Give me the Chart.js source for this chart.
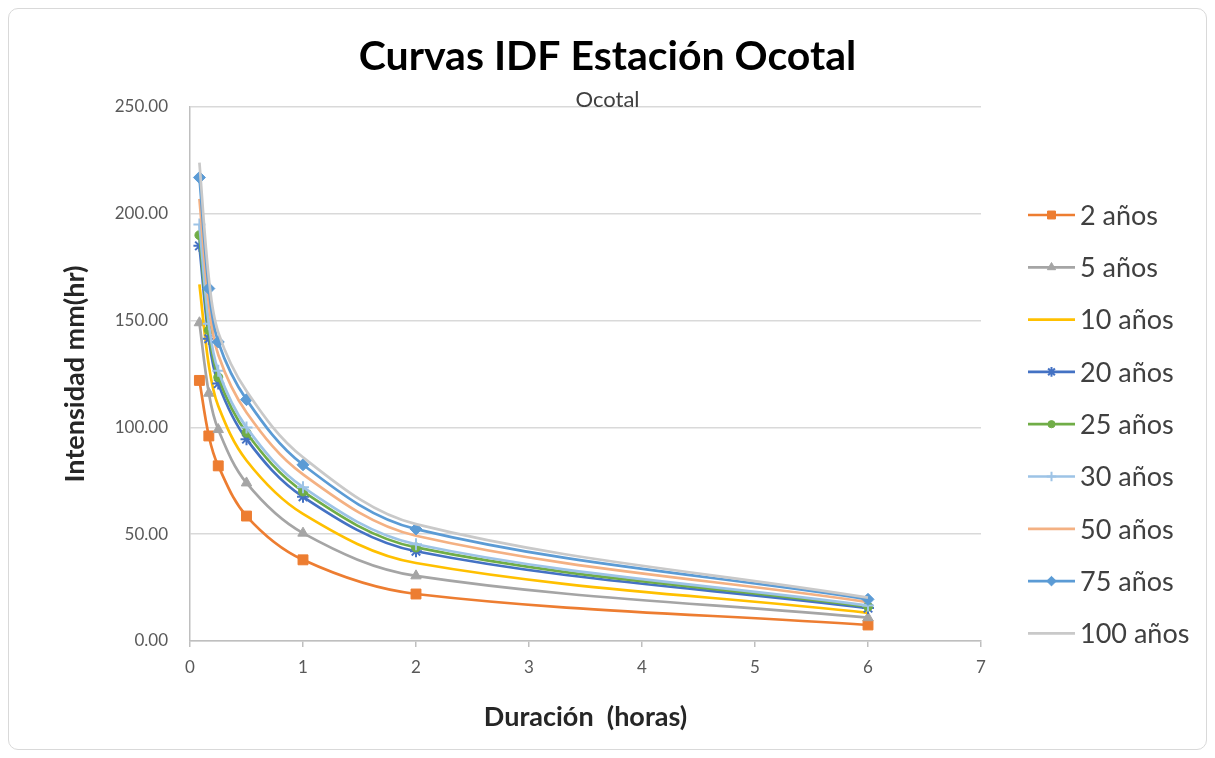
<!DOCTYPE html>
<html>
<head>
<meta charset="utf-8">
<title>Curvas IDF Estación Ocotal</title>
<script src="https://cdn.jsdelivr.net/npm/chart.js@4/dist/chart.umd.min.js"></script>
<style>
  html, body { margin: 0; background: #fff; }
  #box {
    position: absolute; left: 8px; top: 8px;
    width: 1197px; height: 740px;
    border: 1px solid #d9d9d9; border-radius: 10px; overflow: hidden;
  }
  canvas { display: block; }
</style>
</head>
<body>
<div id="box"><canvas id="idf" width="1197" height="740"></canvas></div>
<script>
// --- Data ---
// durations in hours: 5, 10, 15, 30, 60, 120, 360 min
const duraciones = [0.0833, 0.1667, 0.25, 0.5, 1, 2, 6];

const i2   = [122, 96, 82, 58.5, 38, 22, 7.5];
const i5   = [149, 116, 99, 74, 50.5, 30.5, 10.9];
const i10  = [167, 129, 110, 84.5, 59.5, 36.5, 13.2];
const i20  = [185, 141.5, 120.5, 94.5, 67.5, 42, 15.4];
const i25  = [190, 145.5, 123.5, 97.5, 70, 43.8, 16.1];
const i30  = [195, 148.5, 126.5, 100, 72, 45.3, 16.6];
const i50  = [207, 158, 134, 107, 78, 49.3, 18.2];
const i75  = [217, 165, 140, 113, 82.5, 52.4, 19.5];
const i100 = [224, 170, 144.5, 117, 86, 54.7, 20.3];

const etiquetas = ['2 años', '5 años', '10 años', '20 años', '25 años', '30 años', '50 años', '75 años', '100 años'];
const valores = [i2, i5, i10, i20, i25, i30, i50, i75, i100];

const colores = ['#ED7D31', '#A5A5A5', '#FFC000', '#4472C4', '#70AD47', '#9DC3E6', '#F4B183', '#5B9BD5', '#C9C9C9'];
const marcadores = ['rect', 'triangle', false, 'star', 'circle', 'cross', false, 'rectRot', false];
const radios = [7, 6, 0, 6, 4.5, 6, 0, 6, 0];

const yTicks = [0, 50, 100, 150, 200, 250];
const xTicks = [0, 1, 2, 3, 4, 5, 6, 7];

const FONT = 'Lato, "Open Sans", sans-serif';

// --- Datasets ---
const datasets = valores.map((serie, k) => ({
  label: etiquetas[k],
  data: duraciones.map((d, i) => ({ x: d, y: serie[i] })),
  showLine: true,
  borderColor: colores[k],
  backgroundColor: colores[k],
  borderWidth: 2.7,
  pointStyle: marcadores[k] || 'circle',
  pointRadius: radios[k],
  pointBorderWidth: marcadores[k] === 'star' || marcadores[k] === 'cross' ? 2 : 1,
  tension: 0.35,
  order: valores.length - k   // later series on top, like Excel
}));

// legend drawn at the right of the plot (line + marker + text)
const sideLegend = {
  id: 'sideLegend',
  afterDraw(chart) {
    const { ctx, chartArea } = chart;
    const x0 = chartArea.right + 47;
    const len = 47;
    const step = 52.3;
    const y0 = chartArea.top + 108;
    ctx.save();
    datasets.forEach((ds, k) => {
      const y = y0 + k * step;
      ctx.strokeStyle = ds.borderColor;
      ctx.lineWidth = 2.7;
      ctx.beginPath();
      ctx.moveTo(x0, y);
      ctx.lineTo(x0 + len, y);
      ctx.stroke();
      if (ds.pointRadius > 0) {
        ctx.fillStyle = ds.backgroundColor;
        ctx.lineWidth = ds.pointBorderWidth;
        Chart.helpers.drawPoint(ctx, { pointStyle: ds.pointStyle, radius: ds.pointRadius * 0.8, rotation: 0, borderWidth: ds.pointBorderWidth }, x0 + len / 2, y);
      }
      ctx.fillStyle = '#404040';
      ctx.font = '27px ' + FONT;
      ctx.textAlign = 'left';
      ctx.textBaseline = 'middle';
      ctx.fillText(ds.label, x0 + len + 5, y + 1);
    });
    ctx.restore();
  }
};

new Chart(document.getElementById('idf'), {
  type: 'scatter',
  data: { datasets },
  options: {
    responsive: false,
    animation: false,
    layout: { padding: 0 },
    plugins: {
      legend: { display: false },
      tooltip: { enabled: false },
      title: {
        display: true,
        text: 'Curvas IDF Estación Ocotal',
        color: '#000',
        font: { family: FONT, size: 41, weight: 'bold' },
        padding: { top: 23, bottom: 0 }
      },
      subtitle: {
        display: true,
        text: 'Ocotal',
        color: '#404040',
        font: { family: FONT, size: 22 },
        padding: { top: 5.6, bottom: -6.2 }
      }
    },
    scales: {
      x: {
        type: 'linear',
        min: 0, max: 7,
        // reserve room on the right for the legend
        afterFit(scale) { scale.height = 108; scale.paddingRight = 225; },
        afterBuildTicks(scale) { scale.ticks = xTicks.map(v => ({ value: v })); },
        ticks: { color: '#595959', font: { family: FONT, size: 17 }, padding: 10 },
        grid: { display: true, drawOnChartArea: false, drawTicks: true, tickLength: 6, color: '#bfbfbf', lineWidth: 1.5 },
        border: { display: true, color: '#bfbfbf', width: 1.5 },
        title: {
          display: true,
          text: 'Duración  (horas)',
          color: '#262626',
          font: { family: FONT, size: 27, weight: 'bold' },
          padding: { top: 0, bottom: 16 }
        }
      },
      y: {
        min: 0, max: 250,
        afterFit(scale) { scale.width = 181; },
        afterBuildTicks(scale) { scale.ticks = yTicks.map(v => ({ value: v })); },
        ticks: { color: '#595959', font: { family: FONT, size: 17 }, padding: 22, callback: v => v.toFixed(2) },
        grid: { color: '#d9d9d9', lineWidth: 1.5, drawTicks: false },
        border: { display: true, color: '#bfbfbf', width: 1.5 },
        title: {
          display: true,
          text: 'Intensidad mm(hr)',
          color: '#262626',
          font: { family: FONT, size: 27, weight: 'bold' },
          padding: { top: 50, bottom: 0 }
        }
      }
    }
  },
  plugins: [sideLegend]
});
</script>
</body>
</html>
